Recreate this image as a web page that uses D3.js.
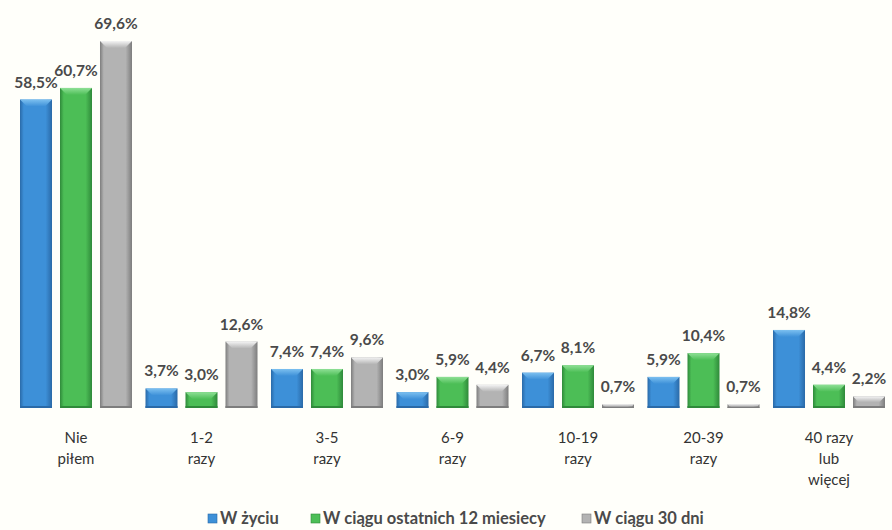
<!DOCTYPE html>
<html>
<head>
<meta charset="utf-8">
<script src="https://cdn.jsdelivr.net/npm/d3@7"></script>
<style>
  body { margin: 0; background: #fffffa; }
  svg { display: block; }
</style>
</head>
<body>
<div id="chart"></div>
<script>
const categories = ['Nie\npiłem', '1-2\nrazy', '3-5\nrazy', '6-9\nrazy', '10-19\nrazy', '20-39\nrazy', '40 razy\nlub\nwięcej']
const seriesNames = ['W życiu', 'W ciągu ostatnich 12 miesiecy', 'W ciągu 30 dni']
const zyciu = [58.5, 3.7, 7.4, 3.0, 6.7, 5.9, 14.8]
const rok = [60.7, 3.0, 7.4, 5.9, 8.1, 10.4, 4.4]
const dni30 = [69.6, 12.6, 9.6, 4.4, 0.7, 0.7, 2.2]
const seriesValues = [zyciu, rok, dni30]

const colors = [
  { main: '#3d90d8', dark: '#2a6aa8', light: '#7cc0f0' },
  { main: '#4cbe56', dark: '#2f8a3a', light: '#8fe096' },
  { main: '#b3b3b3', dark: '#7d7d7d', light: '#f4f4f4' }
]

const width = 892
const height = 530
const baseY = 408

const svg = d3.select('#chart').append('svg')
  .attr('width', width)
  .attr('height', height)
  .style('font-family', 'Lato, sans-serif')

svg.append('rect').attr('width', width).attr('height', height).attr('fill', '#fffffa')

const defs = svg.append('defs')
colors.forEach((c, i) => {
  const g = defs.append('linearGradient').attr('id', 'grad' + i)
    .attr('x1', 0).attr('x2', 1).attr('y1', 0).attr('y2', 0)
  g.append('stop').attr('offset', '0%').attr('stop-color', c.dark)
  g.append('stop').attr('offset', '12%').attr('stop-color', c.main)
  g.append('stop').attr('offset', '80%').attr('stop-color', c.main)
  g.append('stop').attr('offset', '100%').attr('stop-color', c.dark)
  const t = defs.append('linearGradient').attr('id', 'top' + i)
    .attr('x1', 0).attr('x2', 0).attr('y1', 0).attr('y2', 1)
  t.append('stop').attr('offset', '0%').attr('stop-color', c.light)
  t.append('stop').attr('offset', '100%').attr('stop-color', c.main)
})

const x0 = d3.scaleBand()
  .domain(categories)
  .range([20, 885])
  .paddingInner(0.1076)
  .paddingOuter(0)

const x1 = d3.scaleBand()
  .domain(d3.range(3))
  .range([0, x0.bandwidth()])
  .paddingInner(0.2)
  .paddingOuter(0)

const y = d3.scaleLinear()
  .domain([0, 69.6])
  .range([baseY, 41])

const groups = svg.append('g').selectAll('g')
  .data(categories)
  .join('g')
  .attr('transform', d => `translate(${x0(d)},0)`)

groups.each(function (cat, ci) {
  const g = d3.select(this)
  seriesValues.forEach((vals, si) => {
    const v = vals[ci]
    const bx = x1(si)
    const bw = x1.bandwidth()
    const top = y(v)
    const h = baseY - top
    g.append('rect')
      .attr('x', bx).attr('y', top)
      .attr('width', bw).attr('height', h)
      .attr('fill', `url(#grad${si})`)
    const b = Math.min(7, h / 2)
    g.append('polygon')
      .attr('points', [[bx, top], [bx + bw, top], [bx + bw - b, top + b], [bx + b, top + b]].map(p => p.join(',')).join(' '))
      .attr('fill', `url(#top${si})`)
    g.append('rect')
      .attr('x', bx).attr('y', baseY - Math.min(2, h / 3))
      .attr('width', bw).attr('height', Math.min(2, h / 3))
      .attr('fill', colors[si].dark)
    g.append('text')
      .attr('x', bx + bw / 2)
      .attr('y', top - 12)
      .attr('text-anchor', 'middle')
      .style('font-size', '15.5px')
      .style('font-weight', 'bold')
      .attr('fill', '#4a4a4a')
      .text(d3.format('.1f')(v).replace('.', ',') + '%')
  })
})

// category labels
const catLabels = svg.append('g')
categories.forEach(cat => {
  const t = catLabels.append('text')
    .attr('x', x0(cat) + x0.bandwidth() / 2)
    .attr('y', 443)
    .attr('text-anchor', 'middle')
    .style('font-size', '15px')
    .attr('fill', '#333')
  cat.split('\n').forEach((line, i) => {
    t.append('tspan')
      .attr('x', x0(cat) + x0.bandwidth() / 2)
      .attr('dy', i === 0 ? 0 : 21)
      .text(line)
  })
})

// legend
const legendX = [208, 311, 582]
const legend = svg.append('g').attr('transform', 'translate(0,519)')
seriesNames.forEach((name, i) => {
  const item = legend.append('g').attr('transform', `translate(${legendX[i]},0)`)
  item.append('rect')
    .attr('x', 0).attr('y', -5)
    .attr('width', 9).attr('height', 9)
    .attr('fill', colors[i].main)
    .attr('stroke', colors[i].dark)
    .attr('stroke-width', 0.6)
  item.append('text')
    .attr('x', 12)
    .attr('y', 5)
    .style('font-size', '16.5px')
    .style('font-weight', 'bold')
    .attr('fill', '#4a4a4a')
    .text(name)
})
</script>
</body>
</html>
